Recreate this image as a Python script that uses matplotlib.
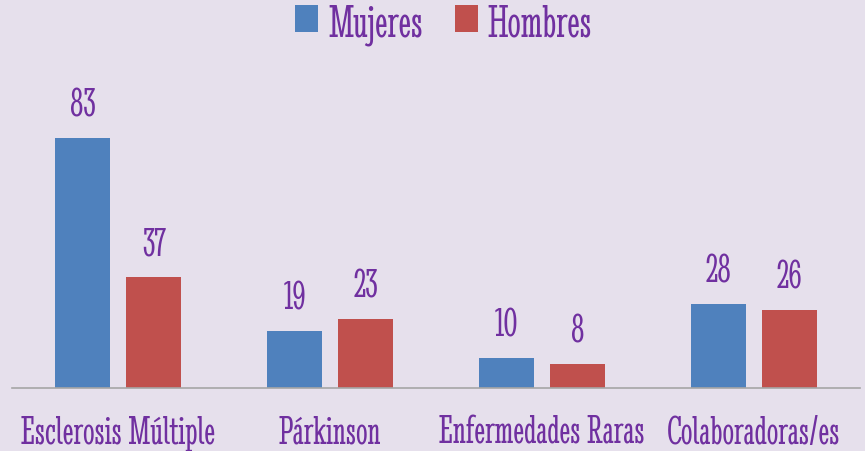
import numpy as np
import matplotlib
matplotlib.use("Agg")
import matplotlib.pyplot as plt

FONT = ["Stint Ultra Condensed", "DejaVu Serif"]
plt.rcParams["font.family"] = FONT

categories = ["Esclerosis Múltiple", "Párkinson", "Enfermedades Raras", "Colaboradoras/es"]
mujeres = [83, 19, 10, 28]
hombres = [37, 23, 8, 26]

BG = "#E6E0EC"
AZUL = "#4F81BD"
ROJO = "#C0504D"
MORADO = "#7030A0"

fig = plt.figure(figsize=(8.65, 4.52), dpi=100, facecolor=BG)
ax = fig.add_axes([12 / 865, 63 / 452, 848 / 865, 301 / 452])
ax.set_facecolor(BG)

x = np.arange(len(categories))
w = 0.264
off = 0.1675

b1 = ax.bar(x - off, mujeres, w, color=AZUL, label="Mujeres")
b2 = ax.bar(x + off, hombres, w, color=ROJO, label="Hombres")

# etiquetas de valor
for bars in (b1, b2):
    for bar in bars:
        h = bar.get_height()
        ax.annotate(
            str(int(h)),
            (bar.get_x() + bar.get_width() / 2, h),
            xytext=(0, 16),
            textcoords="offset points",
            ha="center",
            va="baseline",
            fontsize=30,
            color=MORADO,
        )

# nombres de categoria
for i, cat in enumerate(categories):
    ax.annotate(
        cat,
        (i, 0),
        xycoords=("data", "axes fraction"),
        xytext=(0, -39.5),
        textcoords="offset points",
        ha="center",
        va="baseline",
        fontsize=29.5,
        color=MORADO,
    )

ax.set_xlim(-0.5, 3.5)
ax.set_ylim(0, 100)
ax.set_xticks([])
ax.set_yticks([])
for s in ("top", "right", "left"):
    ax.spines[s].set_visible(False)
ax.spines["bottom"].set_color("#A6A6A6")
ax.spines["bottom"].set_linewidth(1.2)

fig.legend(
    loc="center",
    bbox_to_anchor=(443.5 / 865, 1 - 25 / 452),
    ncol=2,
    frameon=False,
    fontsize=34,
    labelcolor=MORADO,
    handlelength=0.49,
    handleheight=0.49,
    handletextpad=0.21,
    columnspacing=0.68,
    borderpad=0,
)

fig.savefig("out.png", dpi=100, facecolor=BG)
